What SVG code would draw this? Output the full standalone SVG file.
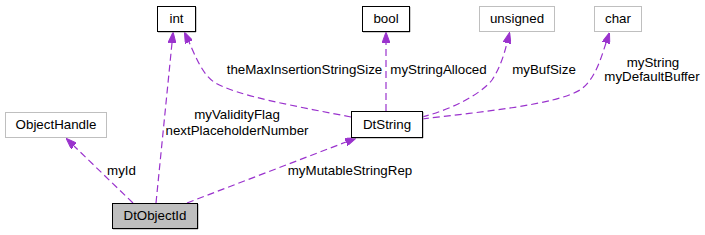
<svg xmlns="http://www.w3.org/2000/svg" width="705" height="235" viewBox="0 0 705 235">
<style>
text{font-family:"Liberation Sans",Arial,sans-serif;font-size:13.33px;fill:#000;text-anchor:middle}
.n{fill:#fff;stroke:#000;stroke-width:1}
.g{fill:#fff;stroke:#bfbfbf;stroke-width:1}
.sh{fill:none;stroke:#999;stroke-width:1}
.e{fill:none;stroke:#9a32cd;stroke-width:1.2;stroke-dasharray:7,4}
</style>
<defs>
<marker id="ah" viewBox="0 0 11 8" refX="0" refY="4" markerWidth="11" markerHeight="8" markerUnits="userSpaceOnUse" orient="auto">
<path d="M0,0 L11,4 L0,8 z" fill="#9a32cd" stroke="#9a32cd" stroke-width="1"/>
</marker>
</defs>
<rect width="705" height="235" fill="#fff"/>
<g id="connectors">
<path class="e" d="M133,203 L74,146" marker-end="url(#ah)"/>
<path class="e" d="M156,203 L172,43" marker-end="url(#ah)"/>
<path class="e" d="M187,203 L346,142" marker-end="url(#ah)"/>
<path class="e" d="M351,117 C300,107 236,96 214,82 C202,74 195,55 189,42" marker-end="url(#ah)"/>
<path class="e" d="M386,111 L386,43" marker-end="url(#ah)"/>
<path class="e" d="M422,117 C450,110 480,95 492,80 C500,68 504,55 507,43" marker-end="url(#ah)"/>
<path class="e" d="M422,119 C480,112 555,105 580,90 C595,80 601,58 606,43" marker-end="url(#ah)"/>
<text x="121.5" y="175">myId</text>
<text x="237" y="119">myValidityFlag</text>
<text x="237" y="135">nextPlaceholderNumber</text>
<text x="350" y="175">myMutableStringRep</text>
<text x="304.5" y="74">theMaxInsertionStringSize</text>
<text x="438.5" y="74">myStringAlloced</text>
<text x="544" y="74">myBufSize</text>
<text x="653" y="67">myString</text>
<text x="652" y="81">myDefaultBuffer</text>
</g>
<g id="node-int">
<path class="sh" d="M196,7 V32 H158"/>
<rect class="n" x="157.5" y="6.5" width="38" height="25"/>
<text x="176.5" y="23">int</text>
</g>
<g id="node-bool">
<path class="sh" d="M410,7 V32 H363"/>
<rect class="n" x="362.5" y="6.5" width="47" height="25"/>
<text x="386" y="23">bool</text>
</g>
<g id="node-unsigned">
<rect class="g" x="479.5" y="6.5" width="75" height="25"/>
<text x="517" y="23">unsigned</text>
</g>
<g id="node-char">
<rect class="g" x="594.5" y="6.5" width="47" height="25"/>
<text x="618" y="23">char</text>
</g>
<g id="node-DtString">
<path class="sh" d="M423,112 V138 H352"/>
<rect class="n" x="351.5" y="111.5" width="71" height="26"/>
<text x="387" y="129">DtString</text>
</g>
<g id="node-ObjectHandle">
<rect class="g" x="5.5" y="112.5" width="101" height="25"/>
<text x="56" y="129">ObjectHandle</text>
</g>
<g id="node-DtObjectId">
<path class="sh" d="M198,204 V229 H113"/>
<rect class="n" x="112.5" y="203.5" width="85" height="25" style="fill:#bfbfbf"/>
<text x="155" y="220">DtObjectId</text>
</g>
</svg>
